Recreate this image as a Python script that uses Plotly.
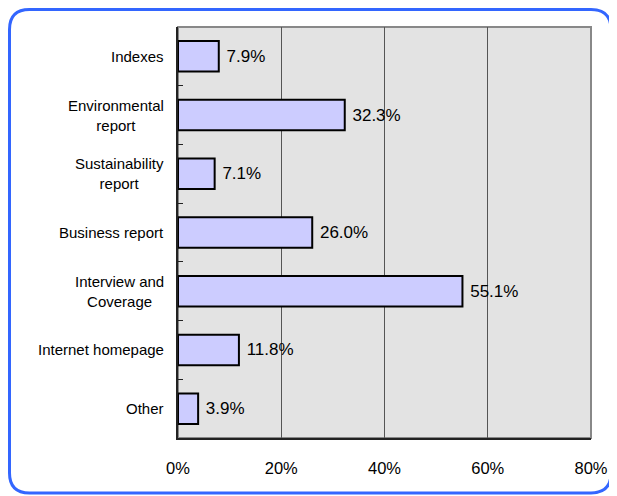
import plotly.graph_objects as go

categories = ["Indexes", "Environmental<br>report", "Sustainability<br>report",
              "Business report", "Interview and<br>Coverage", "Internet homepage", "Other"]
values = [7.9, 32.3, 7.1, 26.0, 55.1, 11.8, 3.9]
value_labels = ["7.9%", "32.3%", "7.1%", "26.0%", "55.1%", "11.8%", "3.9%"]
x_ticks = [0, 20, 40, 60, 80]
x_tick_labels = ["0%", "20%", "40%", "60%", "80%"]

# page body adds an 8px margin, so the figure is a bit smaller than the window
W, H = 609, 488
L, R, T, B = 170, 26, 19, 58
pw, ph = W - L - R, H - T - B
FONT = "Liberation Sans, Arial"


def px(x):
    return (x - L) / pw


def py(y):
    return (H - B - y) / ph


fig = go.Figure()
fig.add_trace(go.Bar(
    x=values, y=categories, orientation="h",
    width=0.52,
    marker=dict(color="#CCCCFF", line=dict(color="#000000", width=2)),
    text=value_labels, texttemplate=" %{text}", textposition="outside", cliponaxis=False,
    textfont=dict(family=FONT, size=17, color="#000000"),
))

# category labels, centred lines like the original
for c in categories:
    fig.add_annotation(x=0, y=c, xref="paper", yref="y", text=c, showarrow=False,
                       xanchor="right", align="center", xshift=-12,
                       font=dict(family=FONT, size=15, color="#000000"))

# rounded blue frame
x0, x1, y0, y1, r = 1.5, 603, 1.5, 485, 20
path = (f"M {px(x0 + r)},{py(y0)} L {px(x1 - r)},{py(y0)} "
        f"Q {px(x1)},{py(y0)} {px(x1)},{py(y0 + r)} L {px(x1)},{py(y1 - r)} "
        f"Q {px(x1)},{py(y1)} {px(x1 - r)},{py(y1)} L {px(x0 + r)},{py(y1)} "
        f"Q {px(x0)},{py(y1)} {px(x0)},{py(y1 - r)} L {px(x0)},{py(y0 + r)} "
        f"Q {px(x0)},{py(y0)} {px(x0 + r)},{py(y0)} Z")
fig.add_shape(type="path", path=path, xref="paper", yref="paper",
              line=dict(color="#3366FF", width=3), layer="below")
fig.add_shape(type="rect", x0=0, x1=1, y0=0, y1=1, xref="paper", yref="paper",
              line=dict(color="#888888", width=2), layer="below")

fig.update_layout(
    width=W, height=H,
    margin=dict(l=L, r=R, t=T, b=B),
    paper_bgcolor="#FFFFFF", plot_bgcolor="#E3E3E3",
    showlegend=False,
    font=dict(family=FONT, color="#000000"),
    xaxis=dict(range=[0, 80], tickvals=x_ticks, ticktext=x_tick_labels, automargin=False,
               showgrid=True, gridcolor="#555555", gridwidth=1, zeroline=False,
               showline=True, linecolor="#222222", linewidth=2,
               ticks="", tickfont=dict(size=16.5), ticklabelstandoff=14),
    yaxis=dict(autorange="reversed", showticklabels=False, showgrid=False, automargin=False,
               showline=True, linecolor="#222222", linewidth=2,
               ticks="inside", tickson="boundaries", ticklen=5, tickcolor="#222222"),
)

fig.write_html("out.html")
